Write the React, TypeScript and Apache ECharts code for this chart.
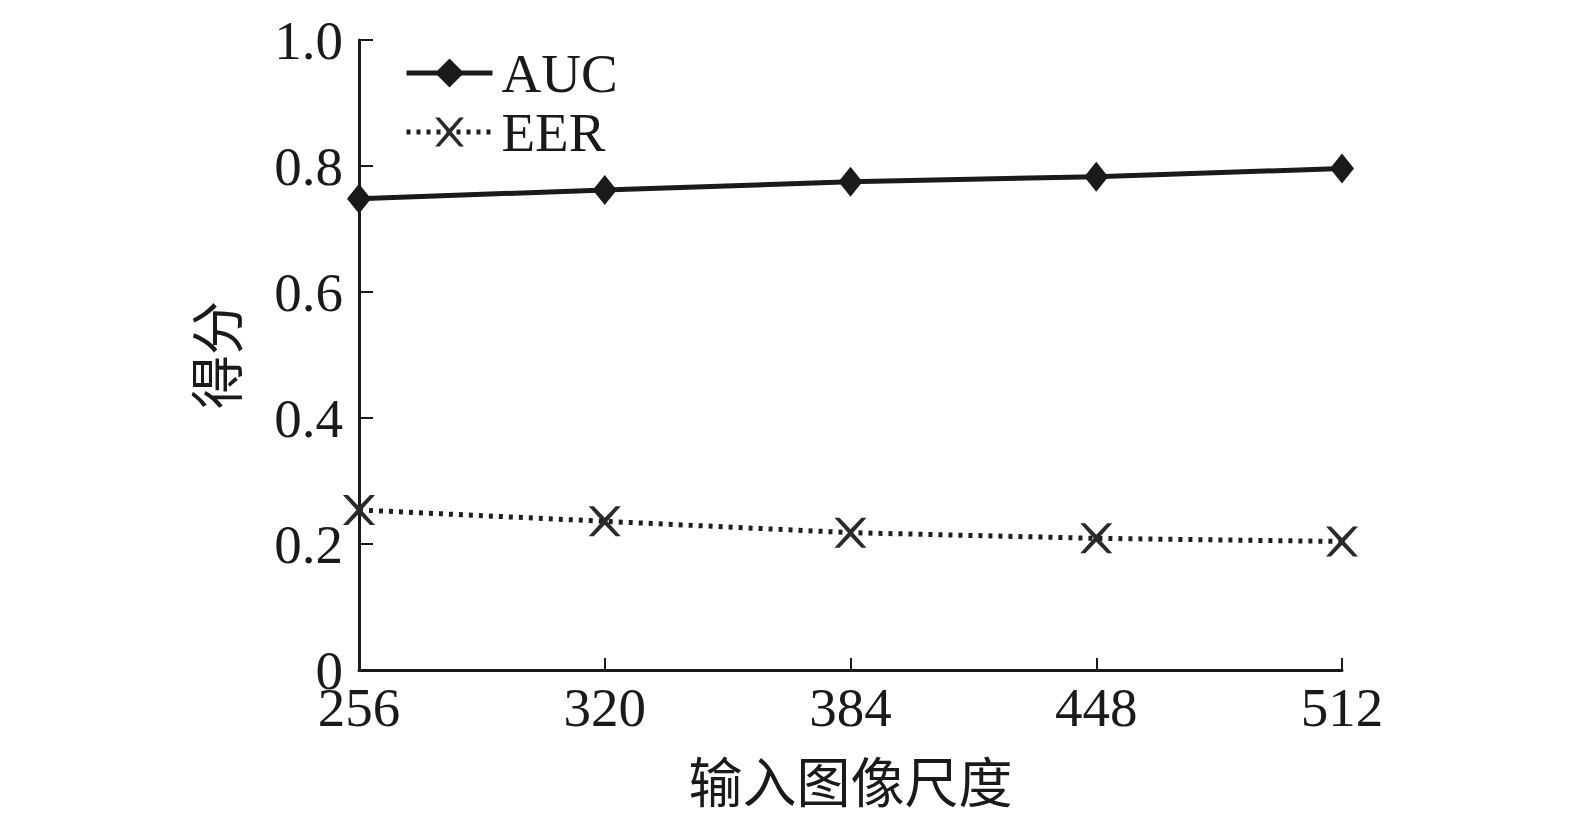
import React, { useEffect, useRef } from "react";
import * as echarts from "echarts";

const categories = ["256", "320", "384", "448", "512"];
const aucValues = [0.748, 0.762, 0.775, 0.783, 0.796];
const eerValues = [0.254, 0.236, 0.218, 0.209, 0.204];
const yTicks = [0, 0.2, 0.4, 0.6, 0.8, 1.0];

const crossPath =
  "path://M0,0 L5,0 L16,11.5 L27,0 L32,0 L18.5,15 L32,30 L27,30 L16,18.5 L5,30 L0,30 L13.5,15 Z";

export default function App() {
  const ref = useRef<HTMLDivElement>(null);
  useEffect(() => {
    if (!ref.current) return;
    const chart = echarts.init(ref.current, undefined, { renderer: "svg" });
    const font = "'Liberation Serif', 'Times New Roman', serif";
    const cjk = "'Noto Sans CJK SC', 'Liberation Serif', serif";
    chart.setOption({
      animation: false,
      backgroundColor: "#fff",
      textStyle: { fontFamily: font, color: "#1a1a1a" },
      grid: { left: 359, right: 233, top: 40, bottom: 156, containLabel: false },
      legend: {
        left: 399,
        top: 40,
        orient: "vertical",
        itemGap: 3,
        itemWidth: 86,
        itemHeight: 36,
        textStyle: {
          fontFamily: font,
          fontSize: 55,
          lineHeight: 56,
          color: "#1a1a1a",
          padding: [0, 0, 0, 4],
        },
        data: [
          { name: "AUC", lineStyle: { width: 5 } },
          { name: "EER", lineStyle: { width: 5 } },
        ],
      },
      xAxis: {
        type: "category",
        data: categories,
        boundaryGap: false,
        name: "输入图像尺度",
        nameLocation: "middle",
        nameGap: 82,
        nameTextStyle: { fontFamily: cjk, fontSize: 54, color: "#1a1a1a" },
        axisLine: { lineStyle: { color: "#1a1a1a", width: 3 } },
        axisTick: {
          inside: true,
          length: 12,
          alignWithLabel: true,
          lineStyle: { color: "#1a1a1a", width: 2 },
        },
        axisLabel: { fontFamily: font, fontSize: 55, color: "#1a1a1a", margin: 10 },
        splitLine: { show: false },
      },
      yAxis: {
        type: "value",
        min: 0,
        max: 1,
        interval: 0.2,
        name: "得分",
        nameLocation: "middle",
        nameGap: 118,
        nameRotate: 90,
        nameTextStyle: { fontFamily: cjk, fontSize: 54, color: "#1a1a1a" },
        axisLine: { show: true, lineStyle: { color: "#1a1a1a", width: 3 } },
        axisTick: {
          show: true,
          inside: true,
          length: 14,
          lineStyle: { color: "#1a1a1a", width: 2 },
        },
        axisLabel: {
          fontFamily: font,
          fontSize: 55,
          color: "#1a1a1a",
          margin: 16,
          formatter: (v: number) => {
            const t = yTicks.find((x) => Math.abs(x - v) < 1e-6);
            if (t === undefined) return "";
            return t === 0 ? "0" : t.toFixed(1);
          },
        },
        splitLine: { show: false },
      },
      series: [
        {
          name: "AUC",
          type: "line",
          data: aucValues,
          symbol: "diamond",
          symbolSize: [24, 30],
          lineStyle: { color: "#1a1a1a", width: 5 },
          itemStyle: { color: "#1a1a1a" },
        },
        {
          name: "EER",
          type: "line",
          data: eerValues,
          symbol: crossPath,
          symbolSize: [32, 30],
          lineStyle: { color: "#1e1e1e", width: 5, type: [4, 6] },
          itemStyle: { color: "#2a2a2a" },
        },
      ],
    });
    return () => chart.dispose();
  }, []);
  return (
    <div
      ref={ref}
      style={{ width: 1575, height: 826, position: "absolute", left: 0, top: 0 }}
    />
  );
}
